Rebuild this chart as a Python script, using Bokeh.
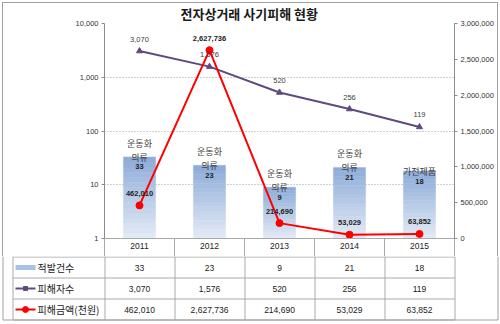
from bokeh.plotting import figure
from bokeh.models import (Range1d, LinearAxis, FixedTicker, NumeralTickFormatter, LinearScale, Title)
from bokeh.core.properties import value
from bokeh.embed import file_html
from bokeh.resources import INLINE

# ---------------- data ----------------
years = ["2011", "2012", "2013", "2014", "2015"]
cases = [33, 23, 9, 21, 18]                       # 적발건수 (bars, left log axis)
victims = [3070, 1576, 520, 256, 119]             # 피해자수 (purple line, left log axis)
amounts = [462010, 2627736, 214690, 53029, 63852] # 피해금액(천원) (red line, right axis)
items = ["운동화\n의류", "운동화\n의류", "운동화\n의류", "운동화\n의류", "가전제품"]
series_names = ["적발건수", "피해자수", "피해금액(천원)"]
title_text = "전자상거래 사기피해 현황"
left_ticks = [1, 10, 100, 1000, 10000]
right_ticks = [0, 500000, 1000000, 1500000, 2000000, 2500000, 3000000]

# ---------------- layout constants ----------------
W = 500
FL, FR, FT, FB = 104, 454, 23, 238     # plot frame (page pixels)
HA = 256                                 # height of chart part (incl. year row)
HB = 324 - HA                            # height of table part
TITLE_LEFT = 180
KR = "Noto Sans CJK KR"
NUM = "Liberation Sans"
BAR_TOP = (0x8c, 0xab, 0xd8)
BAR_BOT = (0xe4, 0xeb, 0xf6)
PURPLE = "#5f4a80"
RED = "#ff0000"
GRID = "#a0a0a0"
TBL = "#a9a9a9"
AXIS = "#8c8c8c"
BORDER = "#a0a0a0"

n = len(years)
xs = [i + 0.5 for i in range(n)]   # category slot centres

# =============== chart ===============
p = figure(width=W, height=HA, x_range=Range1d(0, n), y_range=Range1d(left_ticks[0], left_ticks[-1]),
           y_axis_type="log", output_backend="svg", toolbar_location=None,
           min_border_left=FL, min_border_right=W - FR, min_border_top=FT, min_border_bottom=HA - FB)
p.outline_line_color = None
p.background_fill_color = None
p.border_fill_color = None
p.styles = {"background-color": "white",
            "box-shadow": (f"inset 0 2px 0 0 white, inset 2px 0 0 0 white, inset -2px 0 0 0 white, "
                           f"inset 0 3px 0 0 {BORDER}, inset 3px 0 0 0 {BORDER}, "
                           f"inset -3px 0 0 0 {BORDER}")}
p.extra_y_ranges = {"amt": Range1d(right_ticks[0], right_ticks[-1])}
p.extra_y_scales = {"amt": LinearScale()}

p.add_layout(Title(text=title_text, align="left", offset=TITLE_LEFT - FL, standoff=2,
                   text_font=KR, text_font_size="13px", text_font_style="bold",
                   text_color="#1a1a1a"), "above")

ya = p.yaxis[0]
lt = FixedTicker(ticks=left_ticks, minor_ticks=[])
ya.ticker = lt
ya.formatter = NumeralTickFormatter(format="0,0")
ra = LinearAxis(y_range_name="amt", ticker=FixedTicker(ticks=right_ticks, minor_ticks=[]),
                formatter=NumeralTickFormatter(format="0,0"))
p.add_layout(ra, "right")
for ax in (ya, ra):
    ax.axis_line_color = AXIS
    ax.major_tick_line_color = AXIS
    ax.major_tick_out = 3
    ax.major_tick_in = 0
    ax.minor_tick_line_color = None
    ax.major_label_text_font = NUM
    ax.major_label_text_font_size = "7.5px"
    ax.major_label_text_color = "#333333"
    ax.major_label_standoff = 3

# x axis = header row of the data table (years, column separators as minor ticks)
xa = p.xaxis[0]
xa.ticker = FixedTicker(ticks=xs, minor_ticks=list(range(n + 1)))
xa.major_label_overrides = {x: y for x, y in zip(xs, years)}
xa.axis_line_color = TBL
xa.major_tick_line_color = None
xa.major_tick_out = 0
xa.major_tick_in = 0
xa.minor_tick_line_color = TBL
xa.minor_tick_out = HA - FB
xa.minor_tick_in = 0
xa.major_label_standoff = -(HA - FB) + 4
xa.major_label_text_font = NUM
xa.major_label_text_font_size = "8.5px"
xa.major_label_text_color = "#222222"

p.ygrid.ticker = lt
p.ygrid.grid_line_color = GRID
p.ygrid.grid_line_dash = "1 2"
p.xgrid.visible = False

# bars with vertical gradient
N = 16
for k in range(N):
    t = (k + 0.5) / N
    c = tuple(int(round(BAR_BOT[i] + (BAR_TOP[i] - BAR_BOT[i]) * t)) for i in range(3))
    col = "#%02x%02x%02x" % c
    p.vbar(x=xs, bottom=[v ** (k / N) for v in cases], top=[v ** ((k + 1) / N) for v in cases],
           width=0.46, fill_color=col, line_color=col, line_width=0.4)

# lines
p.line(xs, victims, line_color=PURPLE, line_width=2)
p.scatter(xs, victims, marker="triangle", size=6, color=PURPLE)
p.line(xs, amounts, y_range_name="amt", line_color=RED, line_width=2)
p.scatter(xs, amounts, y_range_name="amt", marker="circle", size=7, color=RED)

# data labels
p.text(x=xs, y=cases, text=items, text_align="center", text_baseline="bottom", y_offset=7,
       text_font=value(KR), text_font_size="9px", text_color="#404040", text_line_height=1.1)
p.text(x=xs, y=cases, text=[str(v) for v in cases], text_align="center", text_baseline="middle",
       y_offset=10, text_font=value(NUM), text_font_size="7.5px", text_font_style="bold",
       text_color="#222222")
p.text(x=xs, y=victims, text=[f"{v:,}" for v in victims], text_align="center",
       text_baseline="middle", y_offset=-12, text_font=value(NUM), text_font_size="7.5px",
       text_color="#404040")
p.text(x=xs, y=amounts, y_range_name="amt", text=[f"{v:,}" for v in amounts],
       text_align="center", text_baseline="middle", y_offset=-12, text_font=value(NUM),
       text_font_size="7.5px", text_font_style="bold", text_color="#222222")

# =============== data table (rows below the year header) ===============
q = figure(width=W, height=HB, x_range=Range1d(0, W), y_range=Range1d(324, HA),
           x_axis_location=None, y_axis_location=None, output_backend="svg",
           toolbar_location=None, min_border=0)
q.outline_line_color = None
q.xgrid.visible = False
q.ygrid.visible = False
q.background_fill_color = "white"
q.border_fill_color = "white"

colw = (FR - FL) / n
row_edges = [HA + 0.5, 277.5, 298.5, 319.5]
TL = 12.5
sx0, sy0, sx1, sy1 = [], [], [], []
for ry in row_edges:
    sx0.append(TL); sx1.append(FR + 0.5); sy0.append(ry); sy1.append(ry)
sx0.append(TL); sx1.append(TL); sy0.append(HA); sy1.append(row_edges[-1])
for i in range(n + 1):
    xx = FL + i * colw + 0.5
    sx0.append(xx); sx1.append(xx); sy0.append(HA); sy1.append(row_edges[-1])
q.segment(sx0, sy0, sx1, sy1, line_color=TBL, line_width=1)

# outer chart frame (lower part)
q.segment([2.5, 497.5, 2.5], [HA, HA, 319.5], [2.5, 497.5, 497.5], [319.5, 319.5, 319.5],
          line_color=BORDER, line_width=1)

centers_x = [FL + (i + 0.5) * colw for i in range(n)]
row_c = [(row_edges[j] + row_edges[j + 1]) / 2 for j in range(3)]
tx, ty, tt = [], [], []
for j, vals in enumerate([[str(v) for v in cases], [f"{v:,}" for v in victims],
                          [f"{v:,}" for v in amounts]]):
    for i in range(n):
        tx.append(centers_x[i]); ty.append(row_c[j]); tt.append(vals[i])
q.text(x=tx, y=ty, text=tt, text_align="center", text_baseline="middle",
       text_font=value(NUM), text_font_size="8.5px", text_color="#222222")

# legend column
q.text(x=[37] * 3, y=row_c, text=series_names, text_align="left", text_baseline="middle",
       text_font=value(KR), text_font_size="10px", text_color="#222222")
q.rect(x=[25], y=[row_c[0]], width=20, height=5, fill_color="#a9c1e3", line_color=None)
q.segment([15, 15], [row_c[1], row_c[2]], [35, 35], [row_c[1], row_c[2]],
          line_color=[PURPLE, RED], line_width=2)
q.scatter([25], [row_c[1]], marker="square", size=4, color=PURPLE)
q.scatter([25], [row_c[2]], marker="circle", size=6, color=RED)

open("out.html", "w").write(file_html([p, q], INLINE))
